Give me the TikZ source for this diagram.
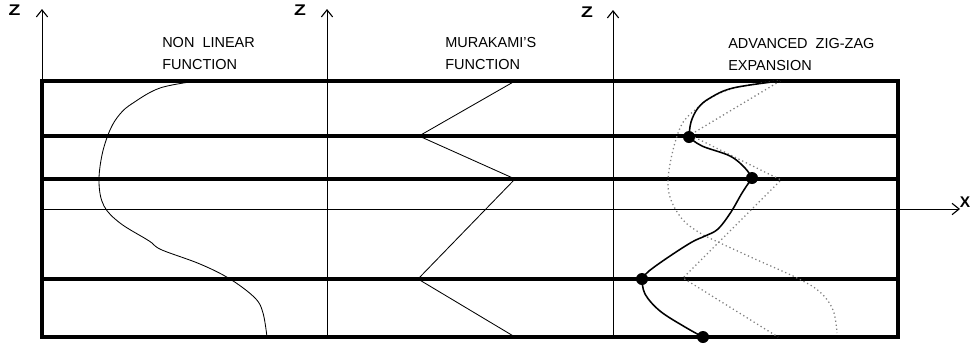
\documentclass[tikz,border=0pt]{standalone}
\usepackage{fontspec}
\setmainfont{Liberation Sans}
\usepackage{tikz}
\usetikzlibrary{arrows.meta,calc}

\tikzset{
  axis/.style={line width=0.7pt, -{Straight Barb[length=5pt,width=8pt,line width=0.8pt]}},
  layer/.style={line width=2.2pt},
  thin/.style={line width=0.7pt},
  curve/.style={line width=0.6pt},
  zig/.style={line width=1.1pt},
  dotline/.style={line width=0.9pt, dotted, gray},
  title/.style={align=left, anchor=west, inner sep=0pt, font=\fontsize{10.3}{15}\selectfont},
  axlabel/.style={inner sep=0pt, font=\fontsize{11}{11}\selectfont\bfseries},
}

\begin{document}
\begin{tikzpicture}[x=0.025cm, y=-0.025cm]
\useasboundingbox (0,0) rectangle (971,345);

% axes
\coordinate (z1) at (42,9);
\coordinate (z2) at (327,9);
\coordinate (z3) at (613,10);
\draw[axis] (42,337) -- (z1);
\draw[axis] (327,337) -- (z2);
\draw[axis] (613,337) -- (z3);
\coordinate (xend) at (960,209);
\draw[axis] (42,209) -- (xend);
\node[axlabel] (lz1) at (14.5,10) {\scalebox{1.25}[1]{Z}};
\node[axlabel] (lz2) at (300,10) {\scalebox{1.25}[1]{Z}};
\node[axlabel] (lz3) at (587,12) {\scalebox{1.25}[1]{Z}};
\node[axlabel, anchor=east] (lx) at (970.5,202) {X};

% layers
\draw[layer] (42,81) rectangle (898,337);
\draw[layer] (42,136) -- (898,136);
\draw[layer] (42,179) -- (898,179);
\draw[layer] (42,279) -- (898,279);

% titles
\node[title] (t1) at (162,53.5) {NON~~LINEAR\\FUNCTION};
\node[title] (t2) at (445,53.5) {MURAKAMI'S\\FUNCTION};
\node[title] (t3) at (728,54.5) {ADVANCED~~ZIG-ZAG\\EXPANSION};

% non linear
\draw[curve] plot[smooth, tension=0.6] coordinates {(197,81) (160,88) (133,103) (120,114) (110,130) (102,155) (99,183) (104,206) (120,223) (146,239) (152,243) (162,250) (200,264) (230,279) (255,298) (263,313) (267,337)};

% murakami
\draw[curve] (515,81) -- (419,136) -- (515,179) -- (418,279) -- (515,337);

% zig-zag expansion
\draw[dotline] (780,81) -- (690,135) -- (781,180) -- (683,278) -- (778,337);
\draw[dotline] plot[smooth, tension=0.6] coordinates {(778,81) (738,87) (712,97) (695,110) (682,124) (673,150) (668,180) (671,200) (683,220) (700,233) (718,242) (755,259) (797,278) (820,292) (833,310) (837,333)};
\draw[zig] plot[smooth, tension=0.6] coordinates {(780,81) (733,88) (710,98) (698,108) (691,122) (689,137)};
\draw[zig] plot[smooth, tension=0.6] coordinates {(689,137) (702,146) (730,156) (745,168) (752,178)};
\draw[zig] plot[smooth, tension=0.6] coordinates {(752,178) (742,193) (731,212) (718,229) (705,236) (692,242) (670,256) (649,271) (642,279)};
\draw[zig] plot[smooth, tension=0.6] coordinates {(642,279) (645,294) (660,311) (685,327) (703,337)};
\fill (689,137) circle (0.15cm);
\fill (752,178) circle (0.15cm);
\fill (642,279) circle (0.15cm);
\fill (703,337) circle (0.15cm);
\end{tikzpicture}
\end{document}
